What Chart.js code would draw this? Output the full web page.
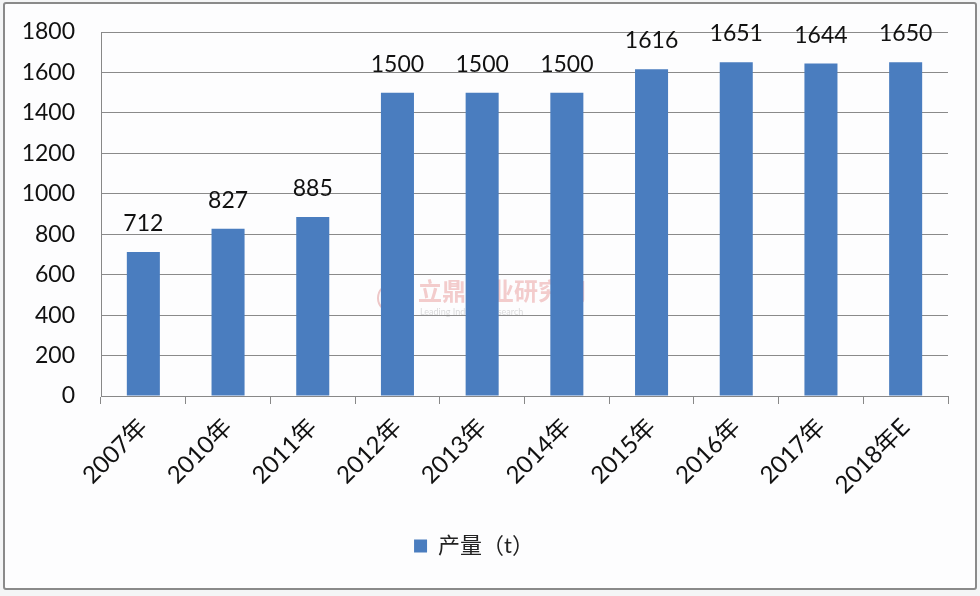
<!DOCTYPE html>
<html>
<head>
<meta charset="utf-8">
<script src="https://cdn.jsdelivr.net/npm/chart.js@4.4.1/dist/chart.umd.min.js"></script>
<style>
    body { margin: 0; background: #f4f5f6; }
    #wrap { position: relative; width: 980px; height: 596px; }
    #frame {
        position: absolute; left: 3px; top: 2px; width: 970px; height: 584px;
        border: 2px solid #8a8a8a; border-radius: 3px; background: #fdfdfe;
    }
    canvas { position: absolute; left: 0; top: 0; }
</style>
</head>
<body>
<div id="wrap">
    <div id="frame"></div>
    <canvas id="prodChart" width="980" height="596"></canvas>
</div>
<script>
const categories = ['2007年', '2010年', '2011年', '2012年', '2013年', '2014年', '2015年', '2016年', '2017年', '2018年E'];
const output = [712, 827, 885, 1500, 1500, 1500, 1616, 1651, 1644, 1650];
const yTicks = [0, 200, 400, 600, 800, 1000, 1200, 1400, 1600, 1800];

const FONT = "Lato, 'Noto Sans CJK SC', sans-serif";

// value labels above each bar
const valueLabels = {
    id: 'valueLabels',
    afterDatasetsDraw(chart) {
        const c = chart.ctx;
        const meta = chart.getDatasetMeta(0);
        c.save();
        c.font = '23px ' + FONT;
        c.fillStyle = '#111';
        c.textAlign = 'center';
        c.textBaseline = 'alphabetic';
        meta.data.forEach((bar, i) => {
            c.fillText(String(output[i]), bar.x, bar.y - 21);
        });
        c.restore();
    }
};

// faint watermark behind the bars
const watermark = {
    id: 'watermark',
    beforeDatasetsDraw(chart) {
        const c = chart.ctx;
        c.save();
        c.globalAlpha = 0.35;
        c.fillStyle = '#e07070';
        c.font = 'bold 24px ' + FONT;
        c.textBaseline = 'middle';
        c.fillText('立鼎产业研究网', 418, 292);
        c.fillStyle = '#999';
        c.font = '9px ' + FONT;
        c.fillText('Leading Industry Research', 420, 312);
        c.beginPath();
        c.strokeStyle = '#d06060';
        c.lineWidth = 2;
        c.arc(392, 298, 14, 0, Math.PI * 2);
        c.stroke();
        c.restore();
    }
};

const chart = new Chart(document.getElementById('prodChart'), {
    type: 'bar',
    data: {
        labels: categories,
        datasets: [{
            label: '产量（t）',
            data: output,
            backgroundColor: '#4a7dbf',
            borderWidth: 0,
            barPercentage: 0.78,
            categoryPercentage: 0.5
        }]
    },
    options: {
        responsive: false,
        animation: false,
        layout: {
            padding: { top: 32, right: 32, left: 0, bottom: 29 }
        },
        plugins: {
            tooltip: { enabled: false },
            legend: {
                position: 'bottom',
                labels: {
                    color: '#222',
                    font: { size: 22, family: FONT },
                    boxWidth: 13,
                    boxHeight: 13,
                    padding: 12
                }
            }
        },
        scales: {
            x: {
                afterFit(scale) { scale.height = 127; },
                grid: {
                    drawOnChartArea: false,
                    drawTicks: true,
                    tickLength: 8,
                    color: '#888'
                },
                border: { color: '#888' },
                ticks: {
                    color: '#111',
                    font: { size: 24, family: FONT },
                    minRotation: 45,
                    maxRotation: 45,
                    padding: 9
                }
            },
            y: {
                min: 0,
                max: 1800,
                afterFit(scale) { scale.width = 101; },
                afterBuildTicks(scale) {
                    scale.ticks = yTicks.map(v => ({ value: v }));
                },
                grid: {
                    color: '#8a8a8a',
                    drawTicks: true,
                    tickLength: 26,
                    tickColor: 'rgba(0,0,0,0)'
                },
                border: { color: '#888' },
                ticks: {
                    color: '#111',
                    font: { size: 23, family: FONT },
                    padding: 0,
                    callback: v => String(v)
                }
            }
        }
    },
    plugins: [watermark, valueLabels]
});
</script>
</body>
</html>
